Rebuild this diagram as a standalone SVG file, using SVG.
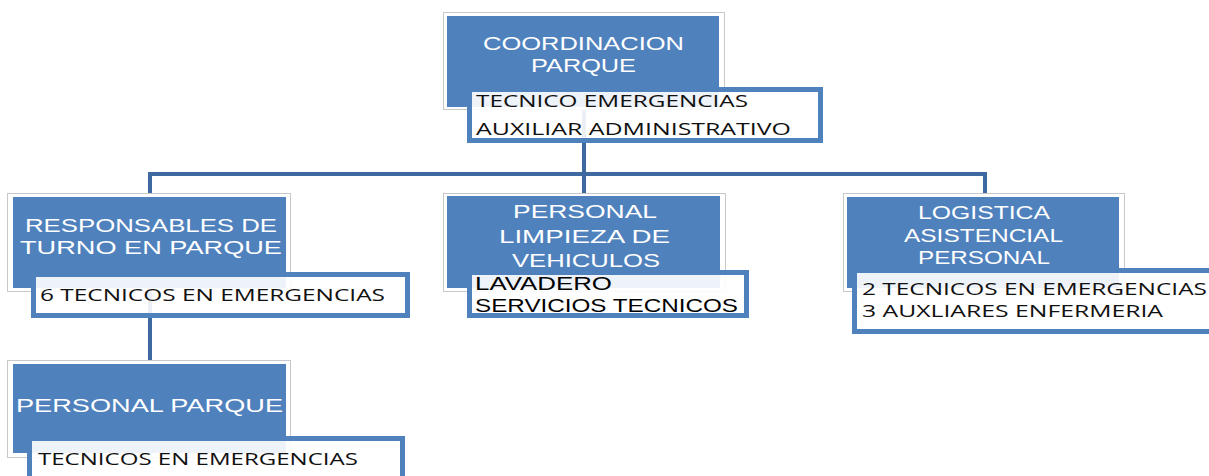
<svg xmlns="http://www.w3.org/2000/svg" width="1209" height="476" viewBox="0 0 1209 476">
<style>
.frame{fill:#ffffff;stroke:#c8c8c8;stroke-width:1}
.head{fill:#4f81bd}
.box{fill:#ffffff;fill-opacity:0.9;stroke:#4f81bd;stroke-width:5}
.conn{stroke:#3e68a0;stroke-width:4;fill:none}
.t{font-family:"Liberation Sans",Arial,sans-serif;fill:#ffffff;font-size:19px}
.s{font-family:"Open Sans","Liberation Sans",sans-serif;fill:#111111;font-size:17px}
.l{font-family:"Liberation Sans",Arial,sans-serif;fill:#000000;font-size:18px}
</style>
<rect width="1209" height="476" fill="#ffffff"/>
<g id="connectors">
<line class="conn" x1="148" y1="174" x2="987" y2="174"/>
<line class="conn" x1="584" y1="108" x2="584" y2="196"/>
<line class="conn" x1="150" y1="174" x2="150" y2="196"/>
<line class="conn" x1="985" y1="174" x2="985" y2="196"/>
<line class="conn" x1="150" y1="290" x2="150" y2="362"/>
</g>
<g id="coordinacion">
<rect class="frame" x="443.5" y="12.5" width="281" height="97"/>
<rect class="head" x="447" y="16" width="272" height="91"/>
<text class="t" x="483" y="50" textLength="201" lengthAdjust="spacingAndGlyphs">COORDINACION</text>
<text class="t" x="531" y="72" textLength="105" lengthAdjust="spacingAndGlyphs">PARQUE</text>
<rect class="box" x="469.5" y="89.5" width="351" height="51"/>
<text class="s" x="476" y="107" textLength="272" lengthAdjust="spacingAndGlyphs">TECNICO EMERGENCIAS</text>
<text class="s" x="476" y="135" textLength="315" lengthAdjust="spacingAndGlyphs">AUXILIAR ADMINISTRATIVO</text>
</g>
<g id="responsables">
<rect class="frame" x="7.5" y="193.5" width="283" height="98"/>
<rect class="head" x="13" y="197" width="273" height="91"/>
<text class="t" x="25" y="232" textLength="252" lengthAdjust="spacingAndGlyphs">RESPONSABLES DE</text>
<text class="t" x="20" y="254" textLength="262" lengthAdjust="spacingAndGlyphs">TURNO EN PARQUE</text>
<rect class="box" x="33.5" y="274.5" width="374" height="41"/>
<text class="s" x="40" y="301" textLength="345" lengthAdjust="spacingAndGlyphs">6 TECNICOS EN EMERGENCIAS</text>
</g>
<g id="limpieza">
<rect class="frame" x="443.5" y="193.5" width="282" height="98"/>
<rect class="head" x="447" y="196" width="273" height="92"/>
<text class="t" x="513" y="218" textLength="144" lengthAdjust="spacingAndGlyphs">PERSONAL</text>
<text class="t" x="499" y="243" textLength="171" lengthAdjust="spacingAndGlyphs">LIMPIEZA DE</text>
<text class="t" x="512" y="267" textLength="148" lengthAdjust="spacingAndGlyphs">VEHICULOS</text>
<rect class="box" x="469.5" y="272.5" width="277" height="43"/>
<text class="l" x="475" y="290" textLength="137" lengthAdjust="spacingAndGlyphs">LAVADERO</text>
<text class="l" x="475" y="312" textLength="263" lengthAdjust="spacingAndGlyphs">SERVICIOS TECNICOS</text>
</g>
<g id="logistica">
<rect class="frame" x="843.5" y="193.5" width="281" height="98"/>
<rect class="head" x="847" y="197" width="272" height="91"/>
<text class="t" x="918" y="219" textLength="132" lengthAdjust="spacingAndGlyphs">LOGISTICA</text>
<text class="t" x="904" y="242" textLength="159" lengthAdjust="spacingAndGlyphs">ASISTENCIAL</text>
<text class="t" x="918" y="264" textLength="132" lengthAdjust="spacingAndGlyphs">PERSONAL</text>
<rect class="box" x="854.5" y="270.5" width="360" height="61"/>
<text class="s" x="862" y="295" font-size="16" textLength="345" lengthAdjust="spacingAndGlyphs">2 TECNICOS EN EMERGENCIAS</text>
<text class="s" x="862" y="317" font-size="16" textLength="301" lengthAdjust="spacingAndGlyphs">3 AUXLIARES ENFERMERIA</text>
</g>
<g id="personal-parque">
<rect class="frame" x="7.5" y="360.5" width="283" height="97"/>
<rect class="head" x="13" y="364" width="273" height="89"/>
<text class="t" x="16" y="412" textLength="267" lengthAdjust="spacingAndGlyphs">PERSONAL  PARQUE</text>
<rect class="box" x="29.5" y="438.5" width="373" height="45"/>
<text class="s" x="38" y="465" textLength="320" lengthAdjust="spacingAndGlyphs">TECNICOS EN EMERGENCIAS</text>
</g>
</svg>
